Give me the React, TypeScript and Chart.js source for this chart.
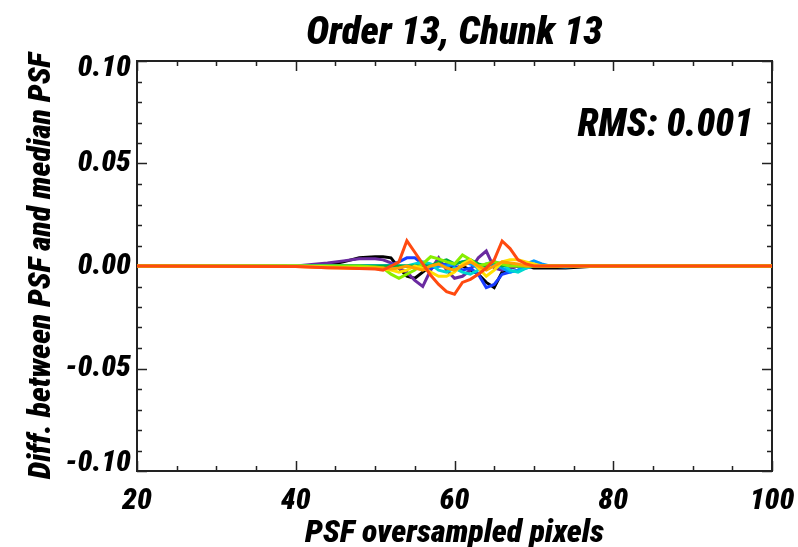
import React, { useEffect, useRef } from "react";
import { Chart, registerables } from "chart.js";

Chart.register(...registerables);

const FONT = '"Roboto Condensed", "DejaVu Sans Condensed", sans-serif';

const chartTitle = "Order 13, Chunk 13";
const rmsLabel = "RMS: 0.001";
const xAxisTitle = "PSF oversampled pixels";
const yAxisTitle = "Diff. between PSF and median PSF";

const xTickValues = [20, 40, 60, 80, 100];
const yTickValues = [-0.1, -0.05, 0, 0.05, 0.1];
const yTickLabels = ["-0.10", "-0.05", "0.00", "0.05", "0.10"];

const pixels = [20, 40, 44, 46, 48, 50, 51, 52, 53, 54, 55, 56, 57, 58, 59, 60, 61, 62, 63, 64, 65, 66, 67, 68, 69, 70, 71, 72, 74, 76, 78, 100];

const diffBlack = [0, 0, 0.0005, 0.002, 0.004, 0.0045, 0.0045, 0.004, -0.001, -0.005, -0.006, -0.003, 0, 0.001, 0.0005, -0.001, 0, -0.002, -0.004, -0.008, -0.0105, -0.003, -0.001, 0, 0, -0.001, -0.001, -0.001, -0.001, -0.0005, 0, 0];
const diffPurple = [0, 0, 0.0015, 0.0025, 0.0035, 0.0035, 0.003, 0.0015, -0.001, -0.003, -0.007, -0.01, -0.002, 0.004, -0.002, -0.006, -0.005, -0.002, 0.004, 0.0073, -0.001, -0.002, -0.001, 0, 0, 0, 0, 0, 0, 0, 0, 0];
const diffBlue = [0, 0, 0, 0, 0, 0, 0, 0.0005, 0.002, 0.004, 0.004, 0.001, -0.001, 0, 0.001, 0, -0.002, -0.001, -0.004, -0.0105, -0.009, -0.004, -0.003, -0.002, -0.001, 0, 0, 0, 0, 0, 0, 0];
const diffSky = [0, 0, 0, 0, 0, 0, 0, 0, 0, 0, 0, 0, 0, 0, 0, 0.001, 0.002, 0.001, -0.001, 0, 0.001, -0.001, -0.003, -0.002, 0.001, 0.0025, 0.001, 0, -0.0005, 0, 0, 0];
const diffCyan = [0, 0, 0, 0, 0, 0, 0, 0, 0, 0, 0.001, 0.002, 0.001, -0.002, -0.003, -0.001, -0.003, -0.004, -0.002, 0.001, 0.002, 0.001, -0.002, -0.003, -0.001, 0, 0, 0, 0, 0, 0, 0];
const diffGreen = [0, 0, 0, 0, 0, 0, 0, 0, 0, 0, 0, 0, 0, 0.002, 0.003, 0.001, 0.002, 0.003, 0.001, 0, 0.002, 0, 0.001, 0, 0, 0, 0, 0, 0, 0, 0, 0];
const diffLime = [0, 0, 0, 0, 0, -0.0005, -0.001, -0.004, -0.006, -0.004, -0.002, 0.001, 0.0045, 0.0035, 0.002, 0.001, 0.0054, 0.003, 0, 0.001, 0.002, 0.001, 0, 0, 0, 0, 0, 0, 0, 0, 0, 0];
const diffYellow = [0, 0, -0.0005, -0.0008, -0.001, -0.001, -0.0015, -0.002, -0.003, -0.002, 0, -0.001, -0.003, -0.005, -0.005, -0.003, 0.001, 0.003, -0.001, -0.005, -0.002, 0.002, 0.003, 0.003, 0.002, 0.001, 0, 0, 0, 0, 0, 0];
const diffOrange = [0, -0.0003, -0.0008, -0.001, -0.0012, -0.001, -0.001, -0.0015, -0.001, 0, -0.001, -0.002, 0, 0.001, -0.001, -0.002, 0, 0.002, 0, -0.002, 0, 0.002, 0.0015, 0.001, 0, 0, 0, 0, 0, 0, 0, 0];
const diffRed = [0, -0.0003, -0.0008, -0.001, -0.0012, -0.0015, -0.002, 0, 0.002, 0.0123, 0.0067, 0.001, -0.0045, -0.009, -0.0125, -0.0138, -0.008, -0.0065, -0.004, -0.001, 0.003, 0.0122, 0.0085, 0.003, 0.001, 0, 0, 0, 0, 0, 0, 0];

const seriesList = [diffBlack, diffPurple, diffBlue, diffSky, diffCyan, diffGreen, diffLime, diffYellow, diffOrange, diffRed];
const seriesColors = ["#000000", "#6a2aa0", "#1a3cff", "#0098ff", "#00d8d0", "#00b040", "#88ee00", "#ffe000", "#ffa000", "#ff4a10"];

export default function App() {
  const ref = useRef<HTMLCanvasElement>(null);

  useEffect(() => {
    const canvas = ref.current;
    if (!canvas) return;

    const idlFrame = {
      id: "idlFrame",
      beforeDatasetsDraw(chart: any) {
        const { ctx, chartArea } = chart;
        const { left, right, top, bottom } = chartArea;
        const xs = chart.scales.x;
        const ys = chart.scales.y;
        ctx.save();
        ctx.strokeStyle = "#222";
        ctx.lineWidth = 1.5;
        for (let v = 20; v <= 100; v += 5) {
          const px = Math.round(xs.getPixelForValue(v)) + 0.5;
          const len = v % 20 === 0 ? 10 : 5;
          ctx.beginPath();
          ctx.moveTo(px, bottom);
          ctx.lineTo(px, bottom - len);
          ctx.moveTo(px, top);
          ctx.lineTo(px, top + len);
          ctx.stroke();
        }
        for (let i = -10; i <= 10; i++) {
          const py = Math.round(ys.getPixelForValue(i / 100)) + 0.5;
          const len = i % 5 === 0 ? 10 : 5;
          ctx.beginPath();
          ctx.moveTo(left, py);
          ctx.lineTo(left + len, py);
          ctx.moveTo(right, py);
          ctx.lineTo(right - len, py);
          ctx.stroke();
        }
        ctx.lineWidth = 2;
        ctx.strokeRect(left, top, right - left, bottom - top);
        ctx.restore();
      },
      afterDraw(chart: any) {
        const { ctx, chartArea } = chart;
        ctx.save();
        ctx.fillStyle = "#000";
        ctx.textBaseline = "middle";
        ctx.textAlign = "center";
        ctx.font = `italic 900 39px ${FONT}`;
        ctx.fillText(chartTitle, (chartArea.left + chartArea.right) / 2, 34);
        ctx.textAlign = "right";
        ctx.font = `italic 900 38px ${FONT}`;
        ctx.fillText(rmsLabel, 753, 126);
        ctx.restore();
      },
    };

    const tickFont = { family: FONT, size: 30, style: "italic" as const, weight: 900 as any };
    const xTitleFont = { family: FONT, size: 32, style: "italic" as const, weight: 900 as any };
    const yTitleFont = { family: FONT, size: 31.5, style: "italic" as const, weight: 900 as any };
    const isEdge = (v: number) => Math.abs(Math.abs(v) - 0.1) < 1e-9;

    const chart = new Chart(canvas, {
      type: "line",
      data: {
        datasets: seriesList
          .map((vals, i) => ({
            data: vals.map((v, j) => ({ x: pixels[j], y: v })),
            borderColor: seriesColors[i],
            backgroundColor: seriesColors[i],
            borderWidth: 3,
            pointRadius: 0,
            tension: 0,
            fill: false,
          }))
          .reverse(),
      },
      options: {
        animation: false,
        responsive: false,
        devicePixelRatio: 1,
        layout: { padding: { left: 0, top: 61, right: 26, bottom: 0 } },
        plugins: { legend: { display: false }, tooltip: { enabled: false }, title: { display: false } },
        scales: {
          x: {
            type: "linear",
            min: 20,
            max: 100,
            afterFit(s: any) {
              s.height = 76;
              s.paddingLeft = 0;
              s.paddingRight = 0;
            },
            afterBuildTicks(s: any) {
              s.ticks = xTickValues.map((v) => ({ value: v }));
            },
            ticks: { font: tickFont, color: "#000", padding: 12, maxRotation: 0 },
            grid: { display: false, drawTicks: false },
            border: { display: false },
            title: { display: true, text: xAxisTitle, font: xTitleFont, color: "#000", padding: { top: 0, bottom: -6 } },
          },
          y: {
            type: "linear",
            min: -0.1,
            max: 0.1,
            afterFit(s: any) {
              s.width = 137;
              s.paddingTop = 0;
              s.paddingBottom = 0;
            },
            afterBuildTicks(s: any) {
              s.ticks = yTickValues.map((v) => ({ value: v }));
            },
            ticks: {
              color: "#000",
              padding: 6,
              font: (c: any) => ({ ...tickFont, lineHeight: c.tick && isEdge(c.tick.value) ? 0.5 : 1.2 }),
              callback: (v: any) => {
                const n = Number(v);
                const idx = yTickValues.findIndex((t) => Math.abs(t - n) < 1e-9);
                if (idx < 0) return "";
                const label = yTickLabels[idx];
                if (isEdge(n)) return n > 0 ? ["", label] : [label, ""];
                return label;
              },
            },
            grid: { display: false, drawTicks: false },
            border: { display: false },
            title: { display: true, text: yAxisTitle, font: yTitleFont, color: "#000", padding: { top: 23, bottom: 0 } },
          },
        },
      },
      plugins: [idlFrame],
    });

    return () => chart.destroy();
  }, []);

  return (
    <div style={{ position: "absolute", left: 0, top: 0, width: 798, height: 547, background: "#fff" }}>
      <canvas ref={ref} width={798} height={547} style={{ width: 798, height: 547 }} />
    </div>
  );
}
